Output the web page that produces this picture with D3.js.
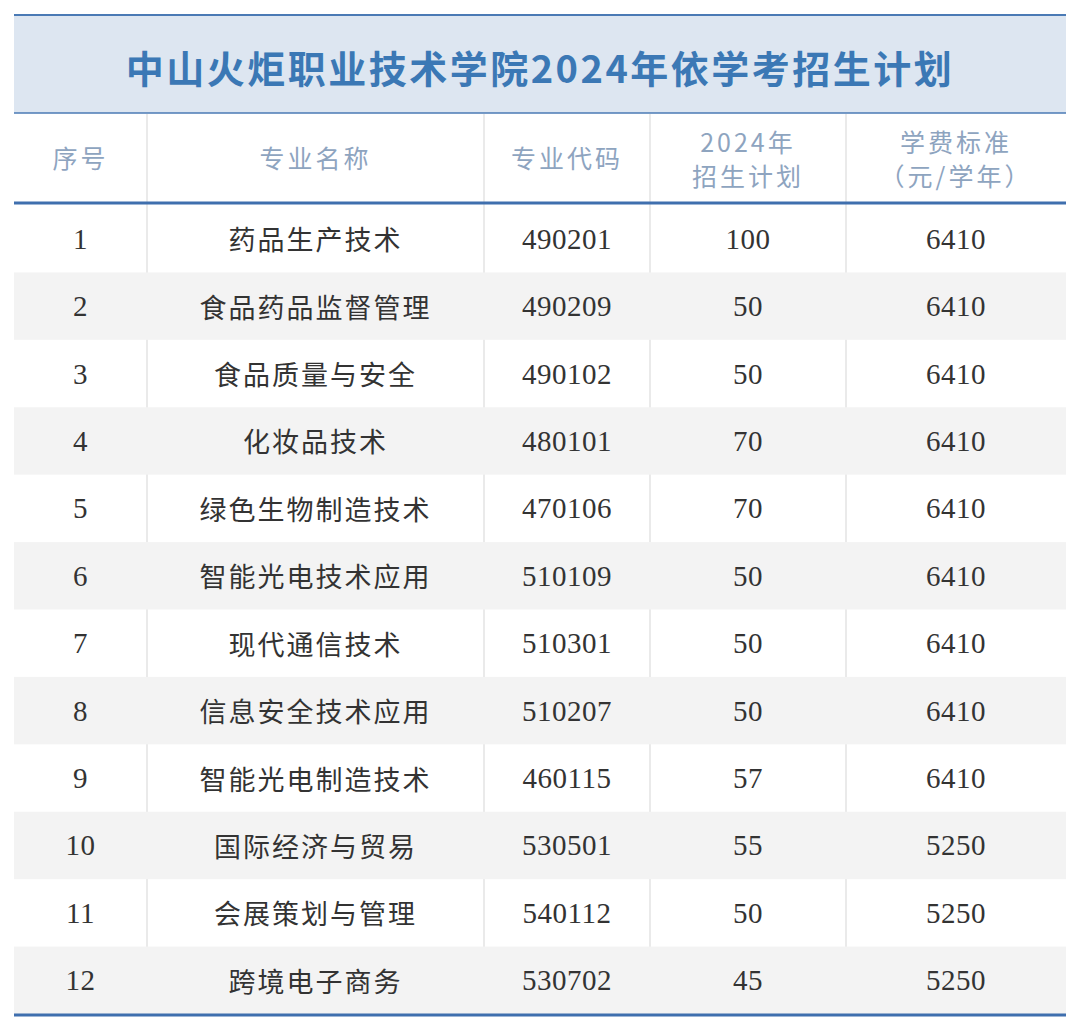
<!DOCTYPE html><html><head><meta charset="utf-8"><script src="https://cdn.jsdelivr.net/npm/d3@7"></script>
<style>body{margin:0;background:#fff}</style></head><body><svg id="c" width="1080" height="1031"></svg>
<script>
const title="中山火炬职业技术学院2024年依学考招生计划";
const headers=[["序号"],["专业名称"],["专业代码"],["2024年","招生计划"],["学费标准","（元/学年）"]];
const seq=[1,2,3,4,5,6,7,8,9,10,11,12];
const names=["药品生产技术","食品药品监督管理","食品质量与安全","化妆品技术","绿色生物制造技术","智能光电技术应用","现代通信技术","信息安全技术应用","智能光电制造技术","国际经济与贸易","会展策划与管理","跨境电子商务"];
const codes=["490201","490209","490102","480101","470106","510109","510301","510207","460115","530501","540112","530702"];
const plans=[100,50,50,70,70,50,50,50,57,55,50,45];
const fees=[6410,6410,6410,6410,6410,6410,6410,6410,6410,5250,5250,5250];

const svg=d3.select("#c");
const L=14,R=1066,colEdges=[14,147,484,650,846,1066];
const colC=i=>(colEdges[i]+colEdges[i+1])/2;
const y=d3.scaleBand().domain(d3.range(12)).range([205,1014]).padding(0);
const cjk="'Noto Sans CJK SC',sans-serif", serif="'Liberation Serif','DejaVu Serif',serif";
svg.append("rect").attr("x",L).attr("y",15).attr("width",R-L).attr("height",98).attr("fill","#dde6f1");
svg.append("line").attr("x1",L).attr("x2",R).attr("y1",15).attr("y2",15).attr("stroke","#4a7ab5").attr("stroke-width",2);
svg.append("line").attr("x1",L).attr("x2",R).attr("y1",113).attr("y2",113).attr("stroke","#4a7ab5").attr("stroke-width",1.5);
svg.append("text").attr("x",(L+R)/2).attr("y",66).attr("text-anchor","middle").attr("dominant-baseline","central")
 .attr("font-family",cjk).attr("font-weight",700).attr("font-size",38).attr("fill","#3b78b5").attr("letter-spacing",2.5).text(title);
svg.selectAll("line.col").data(colEdges.slice(1,5)).join("line").attr("class","col")
 .attr("x1",d=>d).attr("x2",d=>d).attr("y1",114).attr("y2",1014).attr("stroke","#e3e3e3").attr("stroke-width",1.5);
svg.selectAll("rect.row").data(seq.filter((d,i)=>i%2==1)).join("rect").attr("class","row")
 .attr("x",L).attr("width",R-L).attr("y",d=>y(d-1)).attr("height",y.bandwidth()).attr("fill","#f3f3f3");
headers.forEach((h,i)=>{
  const t=svg.append("text").attr("x",colC(i)).attr("text-anchor","middle").attr("font-family",cjk)
   .attr("font-size",25).attr("fill","#8ea4bf").attr("letter-spacing",3);
  if(h.length==1) t.append("tspan").attr("x",colC(i)).attr("y",168).text(h[0]);
  else {t.append("tspan").attr("x",colC(i)).attr("y",152).text(h[0]);t.append("tspan").attr("x",colC(i)).attr("y",186).text(h[1]);}
});
svg.append("line").attr("x1",L).attr("x2",R).attr("y1",203).attr("y2",203).attr("stroke","#3f6fae").attr("stroke-width",3);
svg.append("line").attr("x1",L).attr("x2",R).attr("y1",1015).attr("y2",1015).attr("stroke","#3f6fae").attr("stroke-width",3);
const cols=[seq,names,codes,plans,fees];
cols.forEach((arr,c)=>{
  svg.selectAll("text.c"+c).data(arr).join("text").attr("class","c"+c)
   .attr("x",colC(c)).attr("y",(d,i)=>y(i)+y.bandwidth()/2).attr("text-anchor","middle").attr("dominant-baseline","central")
   .attr("font-family",c==1?cjk:serif).attr("font-size",c==1?27:29).attr("fill","#333")
   .attr("letter-spacing",c==1?2:0.5).text(d=>d);
});
</script></body></html>
